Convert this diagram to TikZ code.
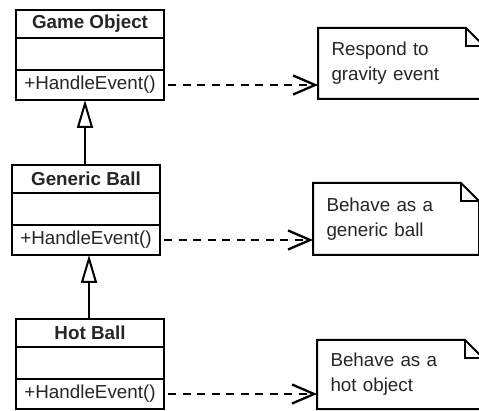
\documentclass[tikz,border=0pt]{standalone}
\usepackage{fontspec}
\setmainfont{Liberation Sans}
\usetikzlibrary{arrows.meta,calc}
\begin{document}
\begin{tikzpicture}[x=1pt,y=1pt,
  part/.style={draw, line width=2pt, minimum width=148pt, inner sep=0pt, outer sep=0pt, anchor=north west, text=black!85},
  ttl/.style={part, minimum height=28pt, font=\fontsize{18.8}{22}\selectfont\bfseries},
  attr/.style={part, minimum height=32pt},
  meth/.style={part, minimum height=30pt, font=\fontsize{18.8}{22}\selectfont},
  notebox/.style={anchor=north west, minimum height=#1, text width=139pt, inner xsep=13.5pt, inner ysep=0pt, outer sep=0pt, align=left, font=\fontsize{18.8}{25}\selectfont, text=black!85},
  noteline/.style={line width=2pt, line join=miter},
  dep/.style={line width=2.3pt, dash pattern=on 8pt off 6.5pt, shorten <=4pt, -{Straight Barb[length=22pt,width=19pt,line width=2.3pt]}},
  gen/.style={line width=2pt, -{Triangle[open,length=28pt,width=16pt,line width=2pt]}}
]
\path[use as bounding box, clip] (0,0) rectangle (479,-411);
\fill[white] (0,0) rectangle (479,-411);

% classes
\node[ttl]  (t1) at (16,-10) {Game Object};
\node[attr] (a1) at (t1.south west) {};
\node[meth] (m1) at (a1.south west) {+HandleEvent()};

\node[ttl]  (t2) at (12,-165) {Generic Ball};
\node[attr] (a2) at (t2.south west) {};
\node[meth] (m2) at (a2.south west) {+HandleEvent()};

\node[ttl]  (t3) at (16,-319) {Hot Ball};
\node[attr] (a3) at (t3.south west) {};
\node[meth] (m3) at (a3.south west) {+HandleEvent()};

% notes
\node[notebox=71pt] (n1) at (318,-28) {Respond to\\gravity event};
\node[notebox=72pt] (n2) at (313,-183) {Behave as a\\generic ball};
\node[notebox=69pt] (n3) at (317,-340) {Behave as a\\hot object};

\foreach \n in {n1,n2,n3}{
  \draw[noteline] (\n.north west) -- ($(\n.north east)+(-18,0)$) coordinate (\n f1)
     -- ($(\n.north east)+(0,-18)$) coordinate (\n f2) -- (\n.south east) -- (\n.south west) -- cycle;
  \draw[noteline] (\n f1) -- (\n f1 |- \n f2) -- (\n f2);
}

% dependencies
\draw[dep] (m1.east) -- (m1.east -| n1.west);
\draw[dep] (m2.east) -- (m2.east -| n2.west);
\draw[dep] (m3.east) -- (m3.east -| n3.west);

% generalizations
\path (t2.north west) ++(73,0) coordinate (g1);
\draw[gen] (g1) -- (g1 |- m1.south);
\path (t3.north west) ++(73,0) coordinate (g2);
\draw[gen] (g2) -- (g2 |- m2.south);
\end{tikzpicture}
\end{document}
